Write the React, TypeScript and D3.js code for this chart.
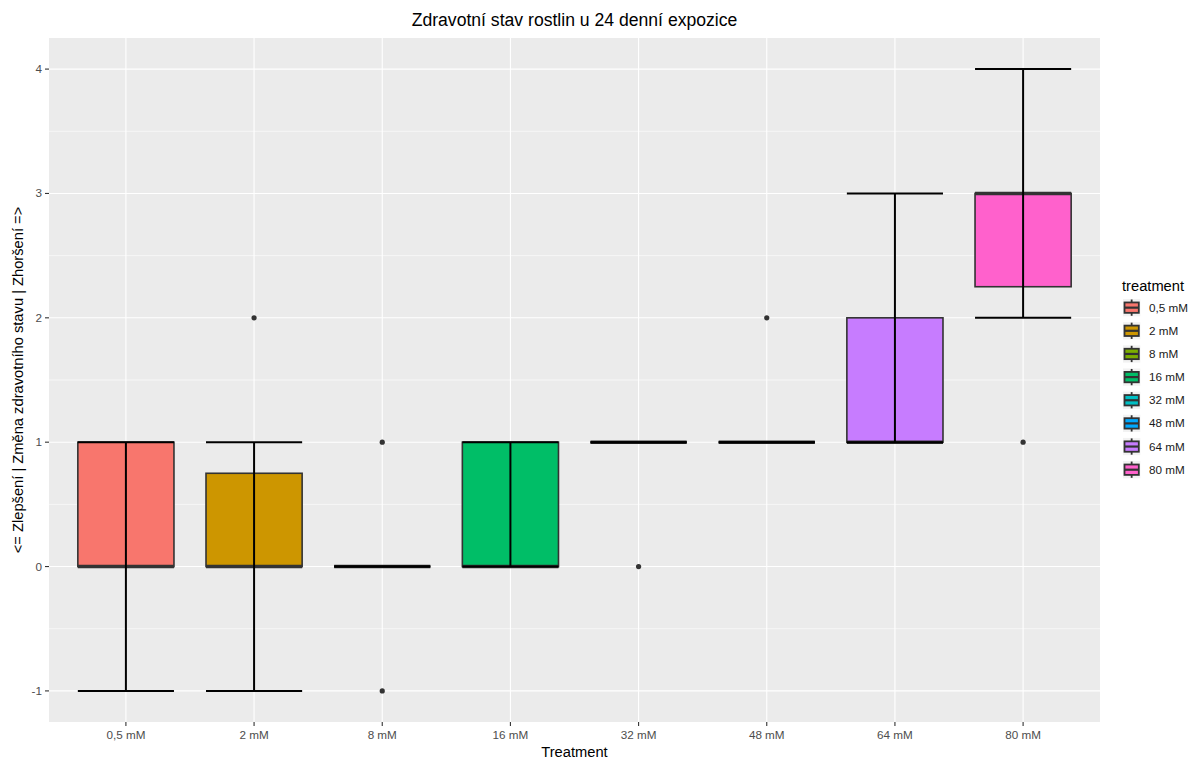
import React from "react";
import * as d3 from "d3";

const categories = ["0,5 mM", "2 mM", "8 mM", "16 mM", "32 mM", "48 mM", "64 mM", "80 mM"];
const whiskerLow = [-1, -1, 0, 0, 1, 1, 1, 2];
const q1 = [0, 0, 0, 0, 1, 1, 1, 2.25];
const medians = [0, 0, 0, 0, 1, 1, 1, 3];
const q3 = [1, 0.75, 0, 1, 1, 1, 2, 3];
const whiskerHigh = [1, 1, 0, 1, 1, 1, 3, 4];
const outliers: number[][] = [[], [2], [1, -1], [], [0], [2], [], [1]];
const colors = ["#F8766D", "#CD9600", "#7CAE00", "#00BE67", "#00BFC4", "#00A9FF", "#C77CFF", "#FF61CC"];
const yTicks = [-1, 0, 1, 2, 3, 4];
const yMinor = [-0.5, 0.5, 1.5, 2.5, 3.5];

const W = 1189;
const H = 762;
const panel = { left: 49, right: 1100, top: 38, bottom: 722 };
const FONT = "'Liberation Sans', Arial, sans-serif";

export default function App() {
  const x = d3.scalePoint<string>().domain(categories).range([panel.left, panel.right]).padding(0.6);
  const y = d3.scaleLinear().domain([-1.25, 4.25]).range([panel.bottom, panel.top]);
  const bw = x.step() * 0.75;
  const grey20 = "#333333";

  return (
    <svg width={W} height={H} style={{ position: "absolute", left: 0, top: 0, background: "#fff" }} fontFamily={FONT}>
      <rect x={0} y={0} width={W} height={H} fill="#fff" />
      <text x={(panel.left + panel.right) / 2} y={26} textAnchor="middle" fontSize={17.6} fill="#000">
        Zdravotní stav rostlin u 24 denní expozice
      </text>
      <rect x={panel.left} y={panel.top} width={panel.right - panel.left} height={panel.bottom - panel.top} fill="#EBEBEB" />
      {yMinor.map((v) => (
        <line key={"mn" + v} x1={panel.left} x2={panel.right} y1={y(v)} y2={y(v)} stroke="#fff" strokeWidth={0.6} />
      ))}
      {yTicks.map((v) => (
        <line key={"mj" + v} x1={panel.left} x2={panel.right} y1={y(v)} y2={y(v)} stroke="#fff" strokeWidth={1.1} />
      ))}
      {categories.map((c) => (
        <line key={"vx" + c} x1={x(c)} x2={x(c)} y1={panel.top} y2={panel.bottom} stroke="#fff" strokeWidth={1.1} />
      ))}
      {/* boxes */}
      {categories.map((c, i) => {
        const cx = x(c)!;
        return (
          <g key={"box" + c}>
            <rect
              x={cx - bw / 2}
              y={y(q3[i])}
              width={bw}
              height={Math.max(0, y(q1[i]) - y(q3[i]))}
              fill={colors[i]}
              stroke={grey20}
              strokeWidth={1.6}
            />
            <line x1={cx - bw / 2} x2={cx + bw / 2} y1={y(medians[i])} y2={y(medians[i])} stroke={grey20} strokeWidth={3.6} />
            {outliers[i].map((o, j) => (
              <circle key={j} cx={cx} cy={y(o)} r={2.6} fill={grey20} />
            ))}
          </g>
        );
      })}
      {/* error bars */}
      {categories.map((c, i) => {
        const cx = x(c)!;
        return (
          <g key={"eb" + c} stroke="#000" strokeWidth={2}>
            <line x1={cx} x2={cx} y1={y(whiskerLow[i])} y2={y(whiskerHigh[i])} />
            <line x1={cx - bw / 2} x2={cx + bw / 2} y1={y(whiskerLow[i])} y2={y(whiskerLow[i])} />
            <line x1={cx - bw / 2} x2={cx + bw / 2} y1={y(whiskerHigh[i])} y2={y(whiskerHigh[i])} />
          </g>
        );
      })}
      {/* y axis */}
      {yTicks.map((v) => (
        <g key={"yt" + v}>
          <line x1={panel.left - 4} x2={panel.left} y1={y(v)} y2={y(v)} stroke="#333" strokeWidth={1.1} />
          <text x={panel.left - 7} y={y(v) + 4} textAnchor="end" fontSize={11.7} fill="#4D4D4D">
            {v}
          </text>
        </g>
      ))}
      {/* x axis */}
      {categories.map((c) => (
        <g key={"xt" + c}>
          <line x1={x(c)} x2={x(c)} y1={panel.bottom} y2={panel.bottom + 4} stroke="#333" strokeWidth={1.1} />
          <text x={x(c)} y={panel.bottom + 17} textAnchor="middle" fontSize={11.7} fill="#4D4D4D">
            {c}
          </text>
        </g>
      ))}
      <text x={(panel.left + panel.right) / 2} y={757} textAnchor="middle" fontSize={14.7} fill="#000">
        Treatment
      </text>
      <text
        transform={`translate(23, ${(panel.top + panel.bottom) / 2}) rotate(-90)`}
        textAnchor="middle"
        fontSize={14.7}
        fill="#000"
      >
        {"<= Zlepšení | Změna zdravotního stavu | Zhoršení =>"}
      </text>
      {/* legend */}
      <text x={1122} y={291} fontSize={14.7} fill="#000">
        treatment
      </text>
      {categories.map((c, i) => {
        const ky = 299 + i * 23.15;
        const kx = 1123;
        const ks = 17.3;
        return (
          <g key={"lg" + c}>
            <rect x={kx} y={ky} width={ks} height={ks} fill="#F2F2F2" />
            <line x1={kx + ks / 2} x2={kx + ks / 2} y1={ky + 0.5} y2={ky + ks - 0.5} stroke={grey20} strokeWidth={1.8} />
            <rect x={kx + 1.5} y={ky + ks * 0.2} width={ks - 3} height={ks * 0.6} fill={colors[i]} stroke={grey20} strokeWidth={1.8} />
            <line x1={kx + 1.5} x2={kx + ks - 1.5} y1={ky + ks / 2} y2={ky + ks / 2} stroke={grey20} strokeWidth={2.2} />
            <text x={1149} y={ky + ks / 2 + 4} fontSize={11.7} fill="#1A1A1A">
              {c}
            </text>
          </g>
        );
      })}
    </svg>
  );
}
